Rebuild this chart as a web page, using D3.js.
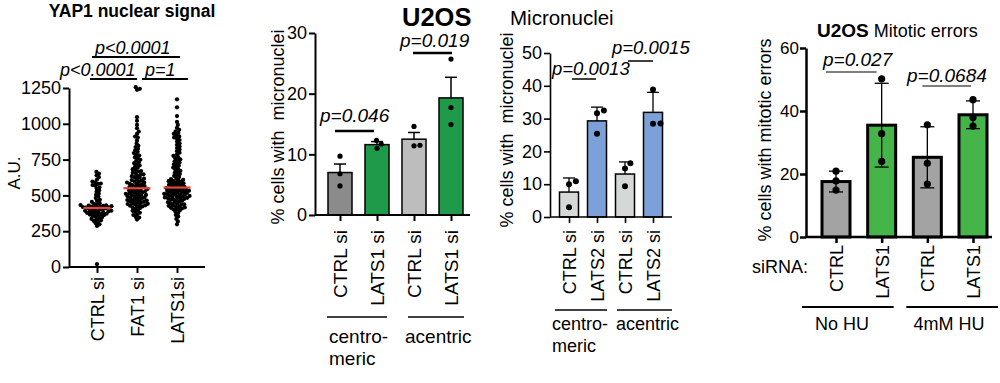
<!DOCTYPE html>
<html>
<head>
<meta charset="utf-8">
<script src="https://cdn.jsdelivr.net/npm/d3@7"></script>
<style>
  html, body { margin: 0; padding: 0; background: #fff; }
  svg { display: block; }
</style>
</head>
<body>
<script>
// ---------------- DATA ----------------
// Panel A: YAP1 nuclear signal (A.U.)
const yapCats = ["CTRL si", "FAT1 si", "LATS1si"];
const yapTicks = [0, 250, 500, 750, 1000, 1250];
const yapCtrl = [20, 664, 653, 640, 627, 611, 597, 591, 583, 580, 572, 567, 557, 548, 536, 526, 512, 503, 490, 481,
  469, 462, 455, 446, 441, 436, 433, 431, 429, 427, 425, 422, 421, 419, 418, 416, 414, 413, 410, 408, 406,
  402, 401, 397, 393, 392, 389, 388, 385, 383, 380, 377, 375, 372, 369, 366, 364, 362, 357, 353, 346,
  343, 336, 333, 326, 322, 317, 306, 298, 287];
const yapFat1 = [331, 345, 350, 363, 368, 379, 384, 392, 396, 405, 411, 417,
  421, 423, 428, 431, 432, 437, 440, 441, 446, 449, 450, 455, 458, 459, 464, 467, 468, 473, 476, 477, 483, 485, 490, 493, 494, 499,
  502, 503, 508, 511, 512, 517, 520, 521, 526, 529, 530, 536, 537, 542, 545, 547,
  551, 556, 558, 563, 565, 570, 572, 578, 581, 583, 589, 590, 596, 598,
  604, 607, 614, 617, 624, 627, 634, 637, 644, 647, 655, 659, 667, 670, 678,
  683, 693, 699, 709, 715, 725, 731, 742, 749, 760, 767, 778, 785, 796, 804, 816, 825, 838,
  846, 863, 884, 904, 911, 929, 946, 969, 992, 1021, 1046,
  1237, 1244, 1256];
const yapLats1 = [298, 318, 336, 352, 364, 377, 386, 395,
  402, 405, 409, 413, 416, 420, 424, 427, 431, 435, 438, 442, 446, 450, 453, 458, 462, 467,
  471, 473, 476, 478, 481, 483, 486, 488, 491, 493, 496, 498, 501, 503, 506, 508, 511, 513, 516, 518,
  521, 523, 526, 528, 531, 533, 536, 538, 541, 543, 546, 548, 551, 553,
  557, 560, 564, 567, 571, 574, 578, 581, 585, 588, 592, 595, 599, 602, 606, 609,
  614, 621, 628, 636, 643, 650, 657, 665, 672, 679, 686, 694, 701, 708, 716, 723, 730, 738, 745, 752, 760, 767,
  776, 787, 798, 809, 820, 831, 842, 853, 864, 876, 887, 898,
  905, 912, 921, 930, 938, 947, 958, 972,
  992, 1013, 1054, 1115, 1171];
const yapMedians = [412, 550, 555];
const yapP = ["p<0.0001", "p<0.0001", "p=1"];

// Panel B: U2OS micronuclei, LATS1
const mnCats = ["CTRL si", "LATS1 si", "CTRL si", "LATS1 si"];
const mnGroups = ["centro-|meric", "acentric"];
const mnTicks = [0, 10, 20, 30];
const mnMeans = [7.0, 11.6, 12.5, 19.3];
const mnSem = [1.4, 0.5, 1.1, 3.4];
const mnPoints = [[9.7, 6.8, 4.8], [12.3, 11.0, 11.7], [14.6, 11.5, 11.4], [25.7, 17.7, 14.9]];
const mnColors = ["#8b8b8b", "#1f9a4a", "#bdbdbd", "#1f9a4a"];
const mnP = ["p=0.046", "p=0.019"];

// Panel C: Micronuclei, LATS2
const mn2Cats = ["CTRL si", "LATS2 si", "CTRL si", "LATS2 si"];
const mn2Groups = ["centro-|meric", "acentric"];
const mn2Ticks = [0, 10, 20, 30, 40, 50];
const mn2Means = [7.6, 29.3, 13.1, 31.9];
const mn2Sd = [4.3, 4.2, 3.7, 6.1];
const mn2Points = [[10.9, 10.0, 3.0], [32.5, 31.6, 25.4], [16.4, 14.8, 9.4], [38.9, 28.5, 28.4]];
const mn2Colors = ["#d6d8d7", "#7ca1d9", "#d6d8d7", "#7ca1d9"];
const mn2P = ["p=0.0013", "p=0.0015"];

// Panel D: U2OS mitotic errors
const mitCats = ["CTRL", "LATS1", "CTRL", "LATS1"];
const mitGroups = ["No HU", "4mM HU"];
const mitTicks = [0, 20, 40, 60];
const mitMeans = [17.6, 35.5, 25.3, 38.8];
const mitSd = [3.3, 13.3, 9.7, 4.4];
const mitPoints = [[20.9, 17.8, 14.9], [50.2, 32.8, 24.0], [35.6, 23.4, 16.8], [43.6, 37.9, 35.2]];
const mitColors = ["#a3a3a3", "#45b54a", "#a3a3a3", "#45b54a"];
const mitP = ["p=0.027", "p=0.0684"];

// ---------------- HELPERS ----------------
const FONT = "'Liberation Sans', Arial, Helvetica, sans-serif";
const svg = d3.select("body").append("svg").attr("width", 1000).attr("height", 383);

function text(g, x, y, s, o = {}) {
  const t = g.append("text")
    .attr("transform", `translate(${x},${y})` + (o.sx ? ` scale(${o.sx},1)` : "") + (o.rot ? " rotate(-90)" : ""))
    .attr("font-family", FONT)
    .attr("font-size", o.fs || 18)
    .attr("font-weight", o.fw || "normal")
    .attr("font-style", o.it ? "italic" : "normal")
    .attr("text-anchor", o.anchor || "start")
    .attr("fill", "#000")
    .style("white-space", "pre");
  if (o.dy) t.attr("dy", o.dy);
  t.text(s);
  return t;
}
function line(g, x1, y1, x2, y2, sw) {
  g.append("line").attr("x1", x1).attr("y1", y1).attr("x2", x2).attr("y2", y2)
    .attr("stroke", "#000").attr("stroke-width", sw || 2);
}
function yAxis(g, scale, x, ticks, o) {
  const a = g.append("g").attr("transform", `translate(${x},0)`)
    .call(d3.axisLeft(scale).tickValues(ticks).tickFormat(d3.format("d"))
      .tickSize(o.tick || 6).tickSizeOuter(0).tickPadding(o.pad || 2));
  a.attr("font-family", FONT).attr("font-size", o.fs || 18);
  a.select(".domain").attr("stroke", "#000").attr("stroke-width", o.sw || 2);
  a.selectAll(".tick line").attr("stroke", "#000").attr("stroke-width", o.sw || 2);
  a.selectAll(".tick text").attr("fill", "#000");
  return a;
}
function xAxis(g, scale, y, x0, x1, o) {
  line(g, x0, y, x1, y, o.sw || 2);
  const a = g.append("g").attr("transform", `translate(0,${y})`)
    .call(d3.axisBottom(scale).tickSize(o.tick || 6).tickSizeOuter(0).tickFormat((d, i) => o.labels[i]));
  a.attr("font-family", FONT).attr("font-size", o.fs || 18);
  a.select(".domain").remove();
  a.selectAll(".tick line").attr("stroke", "#000").attr("stroke-width", o.sw || 2);
  a.selectAll(".tick text")
    .attr("fill", "#000")
    .attr("transform", "rotate(-90)")
    .attr("text-anchor", "end")
    .attr("x", -o.off)
    .attr("y", 0)
    .attr("dy", "0.36em");
  return a;
}
// beeswarm layout (positions only)
function swarm(vals, y, d) {
  const pts = vals.map(v => ({ v, y: y(v) })).sort((a, b) => b.y - a.y);
  const placed = [];
  for (const p of pts) {
    const near = placed.filter(q => Math.abs(q.y - p.y) < d);
    const cands = [0];
    for (const q of near) {
      const dx = Math.sqrt(d * d - (q.y - p.y) ** 2);
      cands.push(q.x + dx, q.x - dx);
    }
    cands.sort((a, b) => Math.abs(a) - Math.abs(b));
    p.x = cands[cands.length - 1];
    for (const c of cands) {
      if (near.every(q => (q.x - c) ** 2 + (q.y - p.y) ** 2 >= d * d - 1e-6)) { p.x = c; break; }
    }
    placed.push(p);
  }
  return placed;
}

// ---------------- PANEL A ----------------
{
  const g = svg.append("g");
  const y = d3.scaleLinear().domain([0, 1250]).range([267, 88]);
  const x = d3.scalePoint().domain(yapCats).range([97, 177]);
  yAxis(g, y, 69, yapTicks, { fs: 18, sw: 2 });
  xAxis(g, x, 267, 69, 205, { labels: yapCats, off: 10, fs: 18, sw: 2 });
  const groups = [yapCtrl, yapFat1, yapLats1];
  groups.forEach((vals, i) => {
    const pts = swarm(vals, y, 3.0);
    g.append("g").selectAll("circle").data(pts).join("circle")
      .attr("cx", d => x(yapCats[i]) + d.x).attr("cy", d => d.y).attr("r", 2.1).attr("fill", "#000");
  });
  g.append("g").selectAll("line").data(yapMedians).join("line")
    .attr("x1", (d, i) => x(yapCats[i]) - 13.5).attr("x2", (d, i) => x(yapCats[i]) + 13.5)
    .attr("y1", d => y(d)).attr("y2", d => y(d))
    .attr("stroke", "#e5453b").attr("stroke-width", 2.2);
  // significance
  line(g, x(yapCats[0]) - 5, 57, x(yapCats[2]) + 3, 57, 2);
  text(g, 95, 54, yapP[0], { it: true, fs: 18 });
  line(g, x(yapCats[0]) - 7, 79, x(yapCats[1]), 79, 2);
  text(g, 60, 76, yapP[1], { it: true, fs: 18 });
  line(g, x(yapCats[1]) + 5, 79, x(yapCats[2]) + 11, 79, 2);
  text(g, 145, 76, yapP[2], { it: true, fs: 18 });
  text(g, 132, 17, "YAP1 nuclear signal", { fw: "bold", fs: 17.5, anchor: "middle" });
  text(g, 14, 173, "A.U.", { rot: true, anchor: "middle", dy: "0.36em", fs: 17 });
}

// ---------------- PANEL B ----------------
{
  const g = svg.append("g");
  const y = d3.scaleLinear().domain([0, 30]).range([215, 33]);
  const x = d3.scalePoint().domain(d3.range(mnCats.length)).range([340, 451]);
  const bw = 24;
  g.append("g").selectAll("rect").data(mnMeans).join("rect")
    .attr("x", (d, i) => x(i) - bw / 2).attr("width", bw)
    .attr("y", d => y(d)).attr("height", d => y(0) - y(d))
    .attr("fill", (d, i) => mnColors[i]).attr("stroke", "#000").attr("stroke-width", 1.5);
  mnMeans.forEach((m, i) => {
    line(g, x(i), y(m), x(i), y(m + mnSem[i]), 1.5);
    line(g, x(i) - 6, y(m + mnSem[i]), x(i) + 6, y(m + mnSem[i]), 1.5);
    const pts = swarm(mnPoints[i], y, 6);
    g.append("g").selectAll("circle").data(pts).join("circle")
      .attr("cx", d => x(i) + d.x).attr("cy", d => d.y).attr("r", 2.6).attr("fill", "#000");
  });
  yAxis(g, y, 315, mnTicks, { fs: 18, sw: 2 });
  xAxis(g, x, 215, 315, 470, { labels: mnCats, off: 15, fs: 19, sw: 2 });
  line(g, x(0) - 13, 317, x(1) + 10, 317, 1.5);
  line(g, x(2) - 6, 317, x(3) + 13, 317, 1.5);
  const gl = mnGroups[0].split("|");
  text(g, 329, 343, gl[0], { fs: 19 });
  text(g, 329, 365, gl[1], { fs: 19 });
  text(g, 405, 343, mnGroups[1], { fs: 19 });
  line(g, x(0) - 5, 131, x(1) - 3, 131, 2.5);
  text(g, 320, 122, mnP[0], { it: true, fs: 19 });
  line(g, x(2) - 1, 53, x(3) + 1, 53, 2.5);
  text(g, 400, 47, mnP[1], { it: true, fs: 19 });
  text(g, 402, 26, "U2OS", { fw: "bold", fs: 25.5 });
  text(g, 278, 127, "% cells with  micronuclei", { rot: true, anchor: "middle", dy: "0.36em", fs: 18 });
}

// ---------------- PANEL C ----------------
{
  const g = svg.append("g");
  const y = d3.scaleLinear().domain([0, 50]).range([217, 53]);
  const x = d3.scalePoint().domain(d3.range(mn2Cats.length)).range([569, 653]);
  const bw = 19;
  g.append("g").selectAll("rect").data(mn2Means).join("rect")
    .attr("x", (d, i) => x(i) - bw / 2).attr("width", bw)
    .attr("y", d => y(d)).attr("height", d => y(0) - y(d))
    .attr("fill", (d, i) => mn2Colors[i]).attr("stroke", "#000").attr("stroke-width", 1.5);
  mn2Means.forEach((m, i) => {
    line(g, x(i), y(m), x(i), y(m + mn2Sd[i]), 1.3);
    line(g, x(i) - 6, y(m + mn2Sd[i]), x(i) + 6, y(m + mn2Sd[i]), 1.3);
    const pts = swarm(mn2Points[i], y, 7.5);
    g.append("g").selectAll("circle").data(pts).join("circle")
      .attr("cx", d => x(i) + d.x).attr("cy", d => d.y).attr("r", 3).attr("fill", "#000");
  });
  yAxis(g, y, 550, mn2Ticks, { fs: 18, sw: 1.6 });
  xAxis(g, x, 217, 550, 672, { labels: mn2Cats, off: 13, fs: 18, sw: 1.6 });
  line(g, x(0) - 14, 310, x(1) + 10, 310, 1.5);
  line(g, x(2) - 8, 310, x(3) + 19, 310, 1.5);
  const gl = mn2Groups[0].split("|");
  text(g, 552, 330, gl[0], { fs: 18 });
  text(g, 552, 352, gl[1], { fs: 18 });
  text(g, 616, 330, mn2Groups[1], { fs: 18 });
  line(g, x(0) + 3, 79, x(1) - 1, 79, 1.5);
  text(g, 552, 75, mn2P[0], { it: true, fs: 18.5 });
  line(g, x(2) + 3, 61, x(3), 61, 1.5);
  text(g, 612, 54, mn2P[1], { it: true, fs: 18.5 });
  text(g, 510, 25, "Micronuclei", { fs: 20.5 });
  text(g, 507, 130, "% cells with  micronuclei", { rot: true, anchor: "middle", dy: "0.36em", fs: 18 });
}

// ---------------- PANEL D ----------------
{
  const g = svg.append("g");
  const y = d3.scaleLinear().domain([0, 60]).range([237, 48]);
  const x = d3.scalePoint().domain(d3.range(mitCats.length)).range([836, 973]);
  const bw = 28;
  g.append("g").selectAll("rect").data(mitMeans).join("rect")
    .attr("x", (d, i) => x(i) - bw / 2).attr("width", bw)
    .attr("y", d => y(d)).attr("height", d => y(0) - y(d))
    .attr("fill", (d, i) => mitColors[i]).attr("stroke", "#000").attr("stroke-width", 3);
  mitMeans.forEach((m, i) => {
    line(g, x(i), y(m - mitSd[i]), x(i), y(m + mitSd[i]), 1.3);
    line(g, x(i) - 7, y(m + mitSd[i]), x(i) + 7, y(m + mitSd[i]), 1.3);
    line(g, x(i) - 7, y(m - mitSd[i]), x(i) + 7, y(m - mitSd[i]), 1.3);
    g.append("g").selectAll("circle").data(mitPoints[i]).join("circle")
      .attr("cx", x(i)).attr("cy", d => y(d)).attr("r", 3.6).attr("fill", "#000");
  });
  yAxis(g, y, 806, mitTicks, { fs: 17, sw: 2.5, pad: 1 });
  xAxis(g, x, 237, 806, 992, { labels: mitCats, off: 8, fs: 18, sw: 2.5 });
  text(g, 752, 273, "siRNA:", { fs: 18 });
  line(g, x(0) - 34, 307, x(1) + 12, 307, 2);
  line(g, x(2) - 21, 307, x(3) + 25, 307, 2);
  text(g, 842, 330, mitGroups[0], { fs: 18, anchor: "middle" });
  text(g, 949, 330, mitGroups[1], { fs: 18, anchor: "middle" });
  line(g, x(0) - 10, 72, x(1) - 5, 72, 1.2);
  text(g, 823, 66, mitP[0], { it: true, fs: 19 });
  line(g, x(2) - 5, 86, x(3) - 2, 86, 1.2);
  text(g, 907, 82, mitP[1], { it: true, fs: 19 });
  const t = text(g, 817, 37, "", { fs: 18 });
  t.append("tspan").attr("font-weight", "bold").attr("font-size", 19).text("U2OS");
  t.append("tspan").text(" Mitotic errors");
  text(g, 765, 140, "% cells with mitotic errors", { rot: true, anchor: "middle", dy: "0.36em", fs: 18 });
}
</script>
</body>
</html>
